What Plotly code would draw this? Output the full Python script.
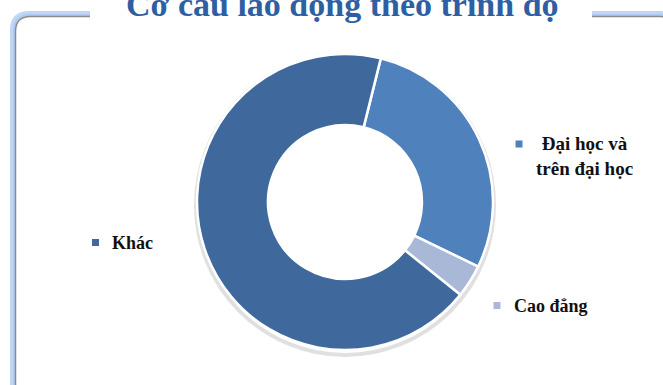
import plotly.graph_objects as go

# ---- data ----
labels = ["Đại học và trên đại học", "Cao đẳng", "Khác"]
label_text = ["Đại học và<br>trên đại học", "Cao đẳng", "Khác"]
values = [28.3, 3.6, 68.1]
colors = ["#4F81BD", "#A9B8D7", "#3F699C"]
title_text = "Cơ cấu lao động theo trình độ"

W, H = 663, 385


def px(x):
    return x / W


def py(y):
    return 1 - y / H


fig = go.Figure()

cx, cy, r = 345, 202, 148
fig.add_trace(go.Pie(
    labels=labels,
    values=values,
    hole=0.52,
    sort=False,
    direction="clockwise",
    rotation=14,
    marker=dict(colors=colors, line=dict(color="white", width=2.5)),
    textinfo="none",
    hoverinfo="label+percent",
    showlegend=False,
    domain=dict(x=[px(cx - r), px(cx + r)], y=[py(cy + r), py(cy - r)]),
))

shapes = []
# faint drop shadow ring around donut
shapes.append(dict(type="circle", xref="paper", yref="paper", layer="below",
                   x0=px(cx - r - 1), x1=px(cx + r + 1), y0=py(cy + r + 5), y1=py(cy - r + 1),
                   line=dict(color="rgba(0,0,0,0.12)", width=4), fillcolor="rgba(0,0,0,0)"))


def rrect(x0, y0, x1, y1, rad):
    return (f"M {px(x0 + rad)},{py(y0)} L {px(x1 - rad)},{py(y0)} "
            f"Q {px(x1)},{py(y0)} {px(x1)},{py(y0 + rad)} "
            f"L {px(x1)},{py(y1 - rad)} Q {px(x1)},{py(y1)} {px(x1 - rad)},{py(y1)} "
            f"L {px(x0 + rad)},{py(y1)} Q {px(x0)},{py(y1)} {px(x0)},{py(y1 - rad)} "
            f"L {px(x0)},{py(y0 + rad)} Q {px(x0)},{py(y0)} {px(x0 + rad)},{py(y0)} Z")


# blue glow
shapes.append(dict(type="path", xref="paper", yref="paper", path=rrect(12.5, 13.5, 677, 400, 17),
                   line=dict(color="rgba(140,180,235,0.55)", width=5)))
shapes.append(dict(type="path", xref="paper", yref="paper", path=rrect(14, 15, 676, 399, 16),
                   line=dict(color="rgba(170,200,245,0.8)", width=2)))
# gray border
shapes.append(dict(type="path", xref="paper", yref="paper", path=rrect(15.5, 16.5, 675, 398, 15),
                   line=dict(color="#8C8C8C", width=1.5)))
# white box behind title
shapes.append(dict(type="rect", xref="paper", yref="paper",
                   x0=px(90), x1=px(592), y0=py(24), y1=py(-2),
                   fillcolor="white", line=dict(width=0)))

# label markers
marker_pos = [(519, 144), (497, 305.5), (95.5, 242.5)]
for (mx, my), c in zip(marker_pos, colors):
    shapes.append(dict(type="rect", xref="paper", yref="paper",
                       x0=px(mx - 3.5), x1=px(mx + 3.5), y0=py(my + 3.5), y1=py(my - 3.5),
                       fillcolor=c, line=dict(width=0)))

annotations = [
    dict(text=f"<b>{title_text}</b>", x=px(342), y=py(4), xref="paper", yref="paper",
         xanchor="center", yanchor="middle", showarrow=False,
         font=dict(family="Liberation Serif", size=34, color="#2F5FA3")),
]
label_pos = [(584, 156, "center"), (512, 306, "left"), (110, 243, "left")]
label_size = [19, 18, 18]
for (lx, ly, anc), t, s in zip(label_pos, label_text, label_size):
    annotations.append(dict(text=f"<b>{t}</b>", x=px(lx), y=py(ly), xref="paper", yref="paper",
                            xanchor=anc, yanchor="middle", showarrow=False, align="center",
                            font=dict(family="Liberation Serif", size=s, color="#111111")))

fig.update_layout(
    width=W, height=H,
    margin=dict(l=0, r=0, t=0, b=0),
    paper_bgcolor="white",
    plot_bgcolor="white",
    shapes=shapes,
    annotations=annotations,
)

fig.write_html("out.html")
